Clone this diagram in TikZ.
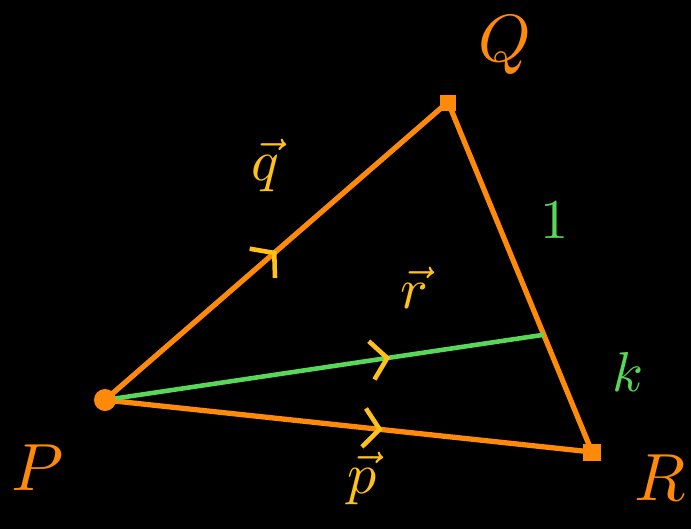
\documentclass[tikz,border=0pt]{standalone}
\usepackage{amsmath}
\usepackage{xcolor}
\usepackage{tikz}
\usetikzlibrary{positioning, calc, decorations.markings, arrows.meta}

\definecolor{chalkorange}{HTML}{FF8A0A}
\definecolor{chalkgreen}{HTML}{58D858}
\definecolor{chalkyellow}{HTML}{FFC21A}

\begin{document}
\begin{tikzpicture}[x={(0.02cm,0)}, y={(0,-0.02cm)},
    side/.style={line width=3pt, chalkorange},
    midarrow/.style={postaction={decorate, decoration={markings,
      mark=at position #1 with {\arrow[chalkyellow, line width=2.6pt]{Straight Barb[length=9pt, width=22pt]}}}}},
    vlabel/.style={chalkyellow, scale=3.3},
    plabel/.style={chalkorange, scale=3.8},
    glabel/.style={chalkgreen, scale=3.2}]
  % background
  \fill[black] (0,0) rectangle (691,529);
  \useasboundingbox (0,0) rectangle (691,529);

  % triangle corners
  \coordinate (P) at (105,400);
  \coordinate (Q) at (448,102);
  \coordinate (R) at (592,452);
  \coordinate (K) at ($(Q)!0.665!(R)$);

  % sides
  \draw[side, midarrow=0.5] (P) -- (Q);
  \draw[side, midarrow=0.57] (P) -- (R);
  \draw[side] (Q) -- (R);
  \draw[line width=2.6pt, chalkgreen, midarrow=0.65] (P) -- (K);

  % corner dots
  \fill[chalkorange] (P) circle (11);
  \fill[chalkorange] ($(Q)+(-8,-7)$) rectangle ($(Q)+(8,9)$);
  \fill[chalkorange] ($(R)+(-9,-8)$) rectangle ($(R)+(9,9)$);

  % point names
  \node[plabel] (labQ) at (505,45) {$Q$};
  \node[plabel] (labP) at (38,468) {$P$};
  \node[plabel] (labR) at (660,478) {$R$};

  % ratio
  \node[glabel] (one) at (555,220) {$1$};
  \node[glabel] (kay) at (628,372) {$k$};

  % vectors
  \node[vlabel] (vq) at (265,165) {$\vec{q}$};
  \node[vlabel] (vr) at (414,288) {$\vec{r}$};
  \node[vlabel] (vp) at (362,478) {$\vec{p}$};
\end{tikzpicture}
\end{document}
